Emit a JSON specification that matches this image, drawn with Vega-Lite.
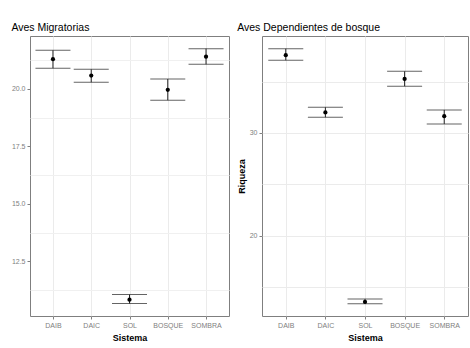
{
  "$schema": "https://vega.github.io/schema/vega-lite/v6.json",
  "background": "white",
  "padding": {"left": 10, "top": 22, "right": 2, "bottom": 2},
  "datasets": {
    "mig": [
      {"Sistema": "DAIB", "media": 21.29, "inf": 20.9, "sup": 21.68},
      {"Sistema": "DAIC", "media": 20.58, "inf": 20.29, "sup": 20.85},
      {"Sistema": "SOL", "media": 10.84, "inf": 10.67, "sup": 11.06},
      {"Sistema": "BOSQUE", "media": 19.96, "inf": 19.51, "sup": 20.43},
      {"Sistema": "SOMBRA", "media": 21.4, "inf": 21.07, "sup": 21.75}
    ],
    "dep": [
      {"Sistema": "DAIB", "media": 37.57, "inf": 37.08, "sup": 38.2},
      {"Sistema": "DAIC", "media": 32.0, "inf": 31.53, "sup": 32.5},
      {"Sistema": "SOL", "media": 13.55, "inf": 13.38, "sup": 13.84},
      {"Sistema": "BOSQUE", "media": 35.26, "inf": 34.55, "sup": 36.0},
      {"Sistema": "SOMBRA", "media": 31.63, "inf": 30.88, "sup": 32.24}
    ]
  },
  "config": {
    "font": "Liberation Sans",
    "view": {"stroke": "#7f7f7f", "strokeWidth": 1},
    "axis": {
      "labelFont": "Liberation Sans",
      "labelFontSize": 7,
      "labelColor": "#808080",
      "labelOverlap": false,
      "tickColor": "#808080",
      "tickSize": 3,
      "labelPadding": 2,
      "domain": false,
      "gridColor": "#ebebeb",
      "gridWidth": 1,
      "titleFont": "Liberation Sans",
      "titleFontSize": 9,
      "titleFontWeight": "bold",
      "titleColor": "#000000",
      "titlePadding": 3
    },
    "axisX": {"titlePadding": 5},
    "title": {"font": "Liberation Sans", "fontSize": 10.5, "fontWeight": "normal", "anchor": "start", "color": "#000000", "offset": 3}
  },
  "spacing": 6,
  "hconcat": [
    {
      "title": "Aves Migratorias",
      "width": 199,
      "height": 280,
      "data": {"name": "mig"},
      "resolve": {"axis": {"y": "independent"}},
      "encoding": {
        "x": {
          "field": "Sistema",
          "type": "nominal",
          "sort": ["DAIB", "DAIC", "SOL", "BOSQUE", "SOMBRA"],
          "scale": {"type": "point", "padding": 0.6},
          "axis": {"labelAngle": 0, "grid": true, "title": "Sistema"}
        }
      },
      "layer": [
        {
          "mark": {"type": "rule", "color": "#222222", "strokeWidth": 1, "opacity": 0},
          "encoding": {
            "y": {
              "field": "media",
              "type": "quantitative",
              "title": null,
              "scale": {"domain": [10.13, 22.3], "nice": false, "zero": false},
              "axis": {
                "orient": "left",
                "values": [11.25, 13.75, 16.25, 18.75, 21.25],
                "labels": false,
                "ticks": false,
                "domain": false,
                "grid": true,
                "gridColor": "#f0f0f0",
                "offset": 0
              }
            },
            "y2": {"field": "media"}
          }
        },
        {
          "layer": [
            {
              "mark": {"type": "rule", "color": "#222222", "strokeWidth": 1},
              "encoding": {
                "y": {
                  "field": "inf",
                  "type": "quantitative",
                  "title": null,
                  "scale": {"domain": [10.13, 22.3], "nice": false, "zero": false},
                  "axis": {"orient": "left", "values": [12.5, 15, 17.5, 20], "format": ".1f"}
                },
                "y2": {"field": "sup"}
              }
            },
            {
              "mark": {"type": "tick", "color": "#222222", "size": 35, "thickness": 1},
              "encoding": {"y": {"field": "inf", "type": "quantitative", "title": null}}
            },
            {
              "mark": {"type": "tick", "color": "#222222", "size": 35, "thickness": 1},
              "encoding": {"y": {"field": "sup", "type": "quantitative", "title": null}}
            },
            {
              "mark": {"type": "point", "filled": true, "color": "#000000", "size": 18, "opacity": 1},
              "encoding": {"y": {"field": "media", "type": "quantitative", "title": null}}
            }
          ]
        }
      ]
    },
    {
      "title": "Aves Dependientes de bosque",
      "width": 206,
      "height": 280,
      "data": {"name": "dep"},
      "encoding": {
        "x": {
          "field": "Sistema",
          "type": "nominal",
          "sort": ["DAIB", "DAIC", "SOL", "BOSQUE", "SOMBRA"],
          "scale": {"type": "point", "padding": 0.6},
          "axis": {"labelAngle": 0, "grid": true, "title": "Sistema"}
        }
      },
      "layer": [
        {
          "mark": {"type": "rule", "color": "#222222", "strokeWidth": 1},
          "encoding": {
            "y": {
              "field": "inf",
              "type": "quantitative",
              "title": "Riqueza",
              "scale": {"domain": [12.18, 39.44], "nice": false, "zero": false},
              "axis": {
                "values": [15, 20, 25, 30, 35],
                "labelExpr": "datum.value%10==0 ? datum.label : ''",
                "tickOpacity": {"condition": {"test": "datum.value%10!=0", "value": 0}, "value": 1}
              }
            },
            "y2": {"field": "sup"}
          }
        },
        {
          "mark": {"type": "tick", "color": "#222222", "size": 35, "thickness": 1},
          "encoding": {"y": {"field": "inf", "type": "quantitative", "title": "Riqueza"}}
        },
        {
          "mark": {"type": "tick", "color": "#222222", "size": 35, "thickness": 1},
          "encoding": {"y": {"field": "sup", "type": "quantitative", "title": "Riqueza"}}
        },
        {
          "mark": {"type": "point", "filled": true, "color": "#000000", "size": 18, "opacity": 1},
          "encoding": {"y": {"field": "media", "type": "quantitative", "title": "Riqueza"}}
        }
      ]
    }
  ]
}
